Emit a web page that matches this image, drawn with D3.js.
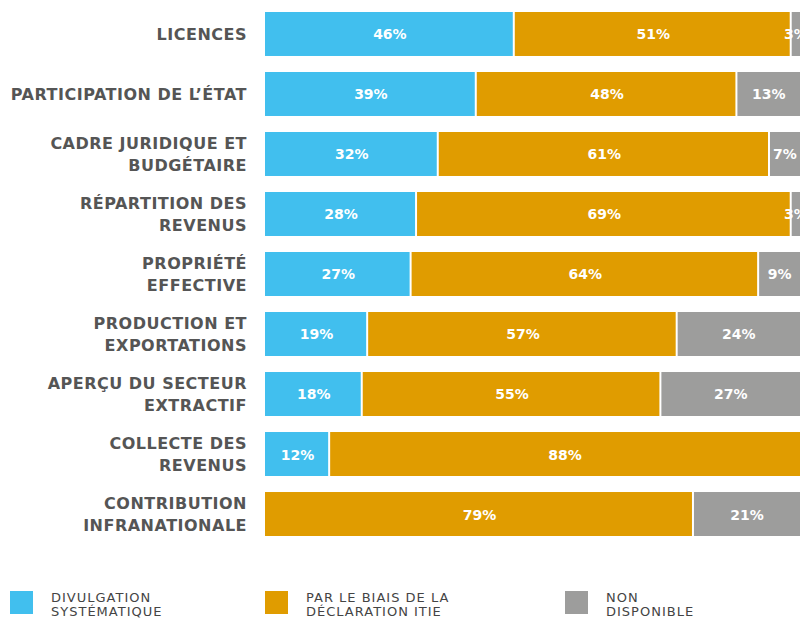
<!DOCTYPE html>
<html>
<head>
<meta charset="utf-8">
<script src="https://cdn.jsdelivr.net/npm/d3@7"></script>
<style>
  body { margin: 0; background: #fff; }
  svg { display: block; }
</style>
</head>
<body>
<div id="chart"></div>
<script>
// categories (one line per label row)
var categories = [
  ["LICENCES"],
  ["PARTICIPATION DE L\u2019\u00C9TAT"],
  ["CADRE JURIDIQUE ET", "BUDG\u00C9TAIRE"],
  ["R\u00C9PARTITION DES", "REVENUS"],
  ["PROPRI\u00C9T\u00C9", "EFFECTIVE"],
  ["PRODUCTION ET", "EXPORTATIONS"],
  ["APER\u00C7U DU SECTEUR", "EXTRACTIF"],
  ["COLLECTE DES", "REVENUS"],
  ["CONTRIBUTION", "INFRANATIONALE"]
];
var divulgation = [46, 39, 32, 28, 27, 19, 18, 12, 0];
var declaration = [51, 48, 61, 69, 64, 57, 55, 88, 79];
var nonDispo    = [3, 13, 7, 3, 9, 24, 27, 0, 21];

var seriesNames = [
  ["DIVULGATION", "SYST\u00C9MATIQUE"],
  ["PAR LE BIAIS DE LA", "D\u00C9CLARATION ITIE"],
  ["NON", "DISPONIBLE"]
];
var colors = ["#41bfee", "#e09c00", "#9d9d9c"];

var width = 800, height = 618;
var svg = d3.select("#chart").append("svg")
  .attr("width", width).attr("height", height);

var rows = categories.map(function(c, i) {
  return { name: c, vals: [divulgation[i], declaration[i], nonDispo[i]] };
});

// set the ranges (100% runs a bit past the right edge, like the original)
var x = d3.scaleLinear().domain([0, 100]).range([265, 808]);
var y = d3.scaleBand().domain(d3.range(rows.length))
  .range([12, 536]).paddingInner(0.267).paddingOuter(0);

var row = svg.selectAll("g.row").data(rows).enter().append("g")
  .attr("class", "row")
  .attr("transform", function(d, i) { return "translate(0," + y(i) + ")"; });

// category labels
row.append("text")
  .attr("text-anchor", "end")
  .style("font-family", "'DejaVu Sans', sans-serif")
  .style("font-weight", "bold")
  .style("font-size", "16px")
  .style("letter-spacing", "0.5px")
  .style("fill", "#555555")
  .each(function(d) {
    var t = d3.select(this), n = d.name.length;
    var y0 = y.bandwidth() / 2 + 6 - (n - 1) * 11;
    d.name.forEach(function(line, k) {
      t.append("tspan").attr("x", 247).attr("y", y0 + k * 22).text(line);
    });
  });

// stacked segments
row.each(function(d) {
  var g = d3.select(this), acc = 0;
  d.vals.forEach(function(v, k) {
    if (v <= 0) return;
    var x0 = x(acc), x1 = x(acc + v);
    acc += v;
    g.append("rect")
      .attr("x", x0).attr("y", 0)
      .attr("width", x1 - x0 - (acc < 100 ? 2 : 0))
      .attr("height", y.bandwidth())
      .style("fill", colors[k]);
    g.append("text")
      .attr("x", (x0 + x1) / 2 - (x1 > width ? 4 : 0))
      .attr("y", y.bandwidth() / 2 + 5.5)
      .attr("text-anchor", "middle")
      .style("font-family", "'DejaVu Sans', sans-serif")
      .style("font-weight", "bold")
      .style("font-size", "14px")
      .style("fill", "#ffffff")
      .text(v + "%");
  });
});

// legend
var legX = [10, 265, 565];
var leg = svg.selectAll("g.leg").data(seriesNames).enter().append("g")
  .attr("class", "leg")
  .attr("transform", function(d, i) { return "translate(" + legX[i] + ",591)"; });
leg.append("rect")
  .attr("width", 23).attr("height", 23)
  .style("fill", function(d, i) { return colors[i]; });
leg.append("text")
  .style("font-family", "'DejaVu Sans', sans-serif")
  .style("font-size", "13px")
  .style("letter-spacing", "1px")
  .style("fill", "#444444")
  .each(function(d) {
    var t = d3.select(this);
    d.forEach(function(line, k) {
      t.append("tspan").attr("x", 41).attr("y", 11 + k * 14).text(line);
    });
  });
</script>
</body>
</html>
